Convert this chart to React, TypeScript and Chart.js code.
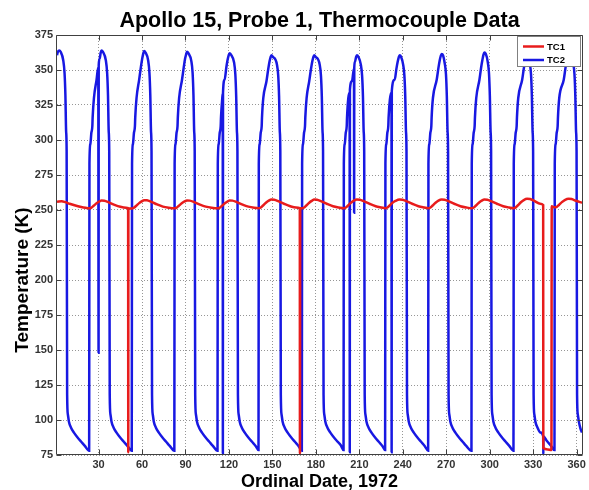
import { useEffect, useRef } from "react";
import { Chart, registerables } from "chart.js";

Chart.register(...registerables);

const TITLE = "Apollo 15, Probe 1, Thermocouple Data";
const X_TITLE = "Ordinal Date, 1972";
const Y_TITLE = "Temperature (K)";
const SERIES_NAMES = ["TC1", "TC2"];
const SERIES_COLORS = ["rgb(232,28,28)", "rgb(24,24,226)"];
const X_TICKS = [30, 60, 90, 120, 150, 180, 210, 240, 270, 300, 330, 360];
const Y_TICKS = [75, 100, 125, 150, 175, 200, 225, 250, 275, 300, 325, 350, 375];
const X_RANGE = [1.3, 363.7];
const Y_RANGE = [75, 375];

// TC1: [ordinal day, temperature K]
const TC1: [number, number][] = [
  [1.3, 255.8], [2.5, 256.1], [4.5, 256.2], [7, 255.6], [10, 254.5], [14, 253.2], [18, 252.2], [21, 251.6], [23.6, 251.2],
  [25.1, 251.7], [26.6, 253.0], [28.6, 254.8], [30.6, 256.1], [32, 256.7], [34, 256.6], [37, 255.5], [41, 253.7], [45, 252.3], [49, 251.6], [50.4, 251.3], [50.5, 77], [50.6, 251.2], [53, 251.0],
  [54.5, 251.7], [56, 253.0], [58, 254.9], [60, 256.3], [61.4, 257.0], [63.4, 256.9], [66.4, 255.8], [70.4, 254.0], [74.4, 252.4], [78.4, 251.6], [82.4, 251.2],
  [83.9, 251.7], [85.4, 253.0], [87.4, 254.8], [89.4, 256.1], [91, 256.8], [93, 256.7], [96, 255.6], [100, 253.8], [104, 252.4], [108, 251.6], [112.2, 251.2],
  [113.7, 251.7], [115.2, 253.0], [117.2, 254.8], [119.2, 256.2], [120.4, 256.8], [122.4, 256.7], [125.4, 255.6], [129.4, 253.8], [133.4, 252.4], [137.4, 251.6], [140.5, 251.3],
  [142, 251.8], [143.5, 253.2], [145.5, 255.2], [147.5, 256.7], [149.3, 257.5], [151.3, 257.4], [154.3, 256.2], [158.3, 254.3], [162.3, 252.7], [166.3, 251.8], [168.9, 251.4], [169.0, 76], [169.2, 251.3], [170.4, 251.2],
  [171.9, 251.8], [173.4, 253.2], [175.4, 255.2], [177.4, 256.7], [178.8, 257.5], [180.8, 257.4], [183.8, 256.2], [187.8, 254.3], [191.8, 252.7], [195.8, 251.8], [199.2, 251.3],
  [200.7, 251.8], [202.2, 253.2], [204.2, 255.2], [206.2, 256.7], [208.3, 257.5], [210.3, 257.4], [213.3, 256.2], [217.3, 254.3], [221.3, 252.7], [225.3, 251.8], [227.9, 251.3],
  [229.4, 251.8], [230.9, 253.2], [232.9, 255.2], [234.9, 256.5], [237.8, 257.5], [239.8, 257.4], [242.8, 256.2], [246.8, 254.3], [250.8, 252.7], [254.8, 251.8], [257.6, 251.3],
  [259.1, 251.8], [260.6, 253.2], [262.6, 255.2], [264.6, 256.7], [266.8, 257.5], [268.8, 257.4], [271.8, 256.2], [275.8, 254.3], [279.8, 252.7], [283.8, 251.8], [287.5, 251.3],
  [289, 251.8], [290.5, 253.2], [292.5, 255.2], [294.5, 256.7], [296.3, 257.5], [298.3, 257.4], [301.3, 256.2], [305.3, 254.3], [309.3, 252.7], [313.3, 251.8], [316.5, 251.3],
  [318, 251.9], [319.5, 253.4], [321.5, 255.5], [323.5, 257.1], [325.8, 258.0], [327.8, 257.8], [330.8, 256.5], [334.8, 254.5], [336.9, 253.6], [337.0, 80], [340, 79], [342.6, 78.5], [342.8, 252.6], [344.8, 252.0],
  [346.3, 252.3], [347.8, 253.6], [349.8, 255.6], [351.8, 257.1], [354.5, 258.0], [356.5, 257.8], [359.5, 256.6], [363.7, 255.2],
];

// TC2: [ordinal day, temperature K]
const TC2: [number, number][] = [
  [1.3, 360.5], [1.9, 363], [2.8, 364], [3.8, 363], [5.6, 357], [6.5, 348], [7.1, 332], [7.6, 306], [7.95, 292],
  [8.3, 118], [8.8, 104], [9.5, 99], [11.0, 94.5], [13.0, 91], [15.5, 87.5], [18.0, 84.5], [20.5, 81.5], [23.5, 78],
  [23.7, 283], [24.3, 297], [25.0, 305], [25.7, 310], [25.9, 316], [26.8, 330], [28.6, 343], [29.8, 352], [30.0, 148], [30.1, 353.5], [30.7, 358], [31.4, 362], [32.0, 364], [33.0, 363], [35.0, 357], [35.9, 348], [36.5, 332], [37.0, 306], [37.35, 292],
  [37.7, 118], [38.2, 104], [38.9, 99], [40.4, 94.5], [42.4, 91], [44.9, 87.5], [47.4, 84.5], [49.9, 81.5], [52.9, 78],
  [53.1, 283], [53.7, 297], [54.4, 305], [55.1, 310], [55.3, 316], [56.2, 330], [58.0, 343], [59.2, 352], [60.1, 358], [60.8, 361.5], [61.4, 363.5], [62.4, 362.5], [64.2, 357], [65.1, 348], [65.7, 332], [66.2, 306], [66.55, 292],
  [66.9, 118], [67.4, 104], [68.1, 99], [69.6, 94.5], [71.6, 91], [74.1, 87.5], [76.6, 84.5], [79.1, 81.5], [82.3, 78],
  [82.5, 283], [83.1, 297], [83.8, 305], [84.5, 310], [84.7, 316], [85.6, 330], [87.6, 343], [88.8, 352], [89.7, 358], [90.4, 361], [91.0, 363], [92.0, 362], [94.0, 356.5], [94.9, 348], [95.5, 332], [96.0, 306], [96.35, 292],
  [96.7, 118], [97.2, 104], [97.9, 99], [99.4, 94.5], [101.4, 91], [103.9, 87.5], [106.4, 84.5], [108.9, 81.5], [112.1, 78],
  [112.3, 283], [112.9, 297], [113.6, 305], [114.3, 310], [114.5, 316], [115.4, 330], [115.7, 333], [115.8, 76], [115.9, 334], [117.0, 343], [118.2, 352], [119.1, 357.5], [119.8, 360.5], [120.4, 362], [121.4, 361], [123.5, 355.5], [124.4, 347], [125.0, 331], [125.5, 306], [125.85, 292],
  [126.2, 118], [126.7, 104], [127.4, 99], [128.9, 94.5], [130.9, 91], [133.4, 87.5], [135.9, 84.5], [138.4, 81.5], [140.4, 78.5],
  [140.6, 283], [141.2, 297], [141.9, 305], [142.6, 310], [142.8, 316], [143.7, 330], [145.9, 342], [147.1, 350.5], [148.0, 356], [148.7, 359], [149.3, 360.5], [150.3, 359.5], [153.1, 354], [154.0, 346], [154.6, 331], [155.1, 306], [155.45, 292],
  [155.8, 118], [156.3, 104], [157.0, 99], [158.5, 94.5], [160.5, 91], [163.0, 87.5], [165.5, 84.5], [168.0, 81.5], [170.3, 78],
  [170.5, 283], [171.1, 297], [171.8, 305], [172.5, 310], [172.7, 316], [173.6, 330], [175.4, 342], [176.6, 350.5], [177.5, 356], [178.2, 359], [178.8, 360.5], [179.8, 359.5], [182.6, 354], [183.5, 346], [184.1, 331], [184.6, 306], [184.95, 292],
  [185.3, 118], [185.8, 104], [186.5, 99], [188.0, 94.5], [190.0, 91], [192.5, 87.5], [195.0, 84.5], [197.2, 82], [199.1, 78.5],
  [199.3, 283], [199.9, 297], [200.6, 305], [201.3, 310], [201.5, 316], [202.4, 330], [203.3, 334], [203.4, 77], [203.5, 336], [204.9, 342], [206.3, 351], [206.4, 248], [206.5, 352], [207.0, 356], [207.7, 359], [208.3, 360.5], [209.3, 359.5], [211.0, 354], [211.9, 346], [212.5, 331], [213.0, 306], [213.35, 292],
  [213.7, 118], [214.2, 104], [214.9, 99], [216.4, 94.5], [218.4, 91], [220.9, 87.5], [223.4, 84.5], [225.9, 81.5], [227.8, 78.5],
  [228.0, 283], [228.6, 297], [229.3, 305], [230.0, 310], [230.2, 316], [231.1, 329], [232.2, 334], [232.3, 77], [232.4, 335], [234.4, 343], [235.6, 351], [236.5, 356], [237.2, 359], [237.8, 360.5], [238.8, 359.5], [240.2, 354], [241.1, 346], [241.7, 331], [242.2, 306], [242.55, 292],
  [242.9, 118], [243.4, 104], [244.1, 99], [245.6, 94.5], [247.6, 91], [250.1, 87.5], [252.6, 84.5], [255.1, 81.5], [257.5, 78],
  [257.7, 283], [258.3, 297], [259.0, 305], [259.7, 310], [259.9, 316], [260.8, 330], [263.4, 343], [264.6, 351.5], [265.5, 357], [266.2, 360], [266.8, 361.5], [267.8, 360.5], [268.9, 355], [269.8, 347], [270.4, 331], [270.9, 306], [271.25, 292],
  [271.6, 118], [272.1, 104], [272.8, 99], [274.3, 94.5], [276.3, 91], [278.8, 87.5], [281.3, 84.5], [283.8, 81.5], [287.4, 78],
  [287.6, 283], [288.2, 297], [288.9, 305], [289.6, 310], [289.8, 316], [290.7, 330], [292.9, 343], [294.1, 352], [295.0, 357.5], [295.7, 361], [296.3, 362.5], [297.3, 361.5], [298.6, 356], [299.5, 347.5], [300.1, 331], [300.6, 306], [300.95, 292],
  [301.3, 118], [301.8, 104], [302.5, 99], [304.0, 94.5], [306.0, 91], [308.5, 87.5], [311.0, 84.5], [313.5, 81.5], [316.4, 78],
  [316.6, 283], [317.2, 297], [317.9, 305], [318.6, 310], [318.8, 316], [319.7, 330], [322.4, 343], [323.6, 351.5], [324.5, 357], [325.2, 360], [325.8, 361.5], [326.8, 360.5], [327.6, 355], [328.5, 347], [329.1, 331], [329.6, 306], [329.95, 292],
  [330.3, 118], [330.8, 104], [331.5, 99], [333.0, 94.5], [335.0, 91], [336.9, 88.5], [337.0, 75.5], [337.1, 88.3], [339.5, 85], [342.0, 82], [344.7, 78.5],
  [344.9, 283], [345.5, 297], [346.2, 305], [346.9, 310], [347.1, 316], [348.0, 330], [351.1, 343], [352.3, 351.5], [353.2, 357], [353.9, 360], [354.5, 361], [355.5, 360], [357.6, 355], [358.5, 347], [359.1, 331], [359.6, 306], [359.95, 292],
  [360.3, 118], [360.8, 104], [361.5, 99], [362.6, 94], [363.7, 91],
];

const FONT = "'Liberation Sans', Arial, Helvetica, sans-serif";

const decorPlugin = {
  id: "decor",
  afterDatasetsDraw(chart: any) {
    const { ctx, chartArea: a, scales } = chart;
    const L = Math.round(a.left) - 0.5;
    const R = Math.round(a.right) + 0.5;
    const T = Math.round(a.top) + 0.5;
    const B = Math.round(a.bottom) - 0.5;
    ctx.save();
    ctx.strokeStyle = "#404040";
    ctx.lineWidth = 1;
    ctx.beginPath();
    ctx.rect(L, T, R - L, B - T);
    for (const v of X_TICKS) {
      const px = Math.round(scales.x.getPixelForValue(v)) + 0.5;
      ctx.moveTo(px, B);
      ctx.lineTo(px, B - 5);
      ctx.moveTo(px, T);
      ctx.lineTo(px, T + 5);
    }
    for (const v of Y_TICKS) {
      const py = Math.round(scales.y.getPixelForValue(v)) + 0.5;
      ctx.moveTo(L, py);
      ctx.lineTo(L + 5, py);
      ctx.moveTo(R, py);
      ctx.lineTo(R - 5, py);
    }
    ctx.stroke();
    ctx.restore();
  },
  afterDraw(chart: any) {
    const { ctx, chartArea: a } = chart;
    ctx.save();
    // legend box
    const bx = 517.5, by = 36.5, bw = 63, bh = 30;
    ctx.fillStyle = "#ffffff";
    ctx.fillRect(bx, by, bw, bh);
    ctx.strokeStyle = "#808080";
    ctx.lineWidth = 1;
    ctx.strokeRect(bx, by, bw, bh);
    chart.data.datasets.forEach((ds: any, i: number) => {
      const y = 46.5 + i * 13.5;
      ctx.strokeStyle = ds.borderColor;
      ctx.lineWidth = 2.5;
      ctx.beginPath();
      ctx.moveTo(523, y);
      ctx.lineTo(544, y);
      ctx.stroke();
      ctx.fillStyle = "#000";
      ctx.font = `bold 9.5px ${FONT}`;
      ctx.textAlign = "left";
      ctx.textBaseline = "middle";
      ctx.fillText(ds.label, 547, y + 0.5);
    });
    // titles
    const cx = (a.left + a.right) / 2;
    ctx.fillStyle = "#000";
    ctx.textAlign = "center";
    ctx.textBaseline = "alphabetic";
    ctx.font = `bold 21.5px ${FONT}`;
    ctx.fillText(TITLE, cx, 27);
    ctx.font = `bold 18px ${FONT}`;
    ctx.fillText(X_TITLE, cx, 487);
    ctx.translate(28, 280);
    ctx.rotate(-Math.PI / 2);
    ctx.font = `bold 19px ${FONT}`;
    ctx.fillText(Y_TITLE, 0, 0);
    ctx.restore();
  },
};

export default function App() {
  const ref = useRef<HTMLCanvasElement | null>(null);

  useEffect(() => {
    if (!ref.current) return;
    const tickFont = { family: FONT, size: 11, weight: "bold" as const };
    const gridColor = "rgba(105,105,105,0.7)";
    const chart = new Chart(ref.current, {
      type: "line",
      data: {
        datasets: [
          {
            label: SERIES_NAMES[0],
            data: TC1.map(([x, y]) => ({ x, y })),
            borderColor: SERIES_COLORS[0],
            backgroundColor: SERIES_COLORS[0],
            borderWidth: 2.5,
            pointRadius: 0,
            cubicInterpolationMode: "monotone",
            fill: false,
          },
          {
            label: SERIES_NAMES[1],
            data: TC2.map(([x, y]) => ({ x, y })),
            borderColor: SERIES_COLORS[1],
            backgroundColor: SERIES_COLORS[1],
            borderWidth: 2.5,
            pointRadius: 0,
            cubicInterpolationMode: "monotone",
            fill: false,
          },
        ],
      },
      options: {
        responsive: false,
        animation: false,
        devicePixelRatio: 1,
        layout: { padding: { top: 35, right: 7, left: 0, bottom: 0 } },
        plugins: {
          legend: { display: false },
          title: { display: false },
          tooltip: { enabled: false },
        },
        scales: {
          x: {
            type: "linear",
            min: X_RANGE[0],
            max: X_RANGE[1],
            afterBuildTicks: (s: any) => {
              s.ticks = X_TICKS.map((v) => ({ value: v }));
            },
            afterFit: (s: any) => {
              s.height = 35;
            },
            ticks: {
              font: tickFont,
              color: "#333",
              padding: 3,
              maxRotation: 0,
              autoSkip: false,
            },
            grid: { color: gridColor, lineWidth: 1, drawTicks: false },
            border: { display: false, dash: [1, 2] },
          },
          y: {
            type: "linear",
            min: Y_RANGE[0],
            max: Y_RANGE[1],
            afterBuildTicks: (s: any) => {
              s.ticks = Y_TICKS.map((v) => ({ value: v }));
            },
            afterFit: (s: any) => {
              s.width = 57;
            },
            ticks: { font: tickFont, color: "#333", padding: 4 },
            grid: { color: gridColor, lineWidth: 1, drawTicks: false },
            border: { display: false, dash: [1, 2] },
          },
        },
      },
      plugins: [decorPlugin],
    });
    return () => chart.destroy();
  }, []);

  return (
    <div style={{ position: "absolute", left: 0, top: 0, width: 589, height: 490, background: "#fff" }}>
      <canvas ref={ref} width={589} height={490} style={{ display: "block" }} />
    </div>
  );
}
